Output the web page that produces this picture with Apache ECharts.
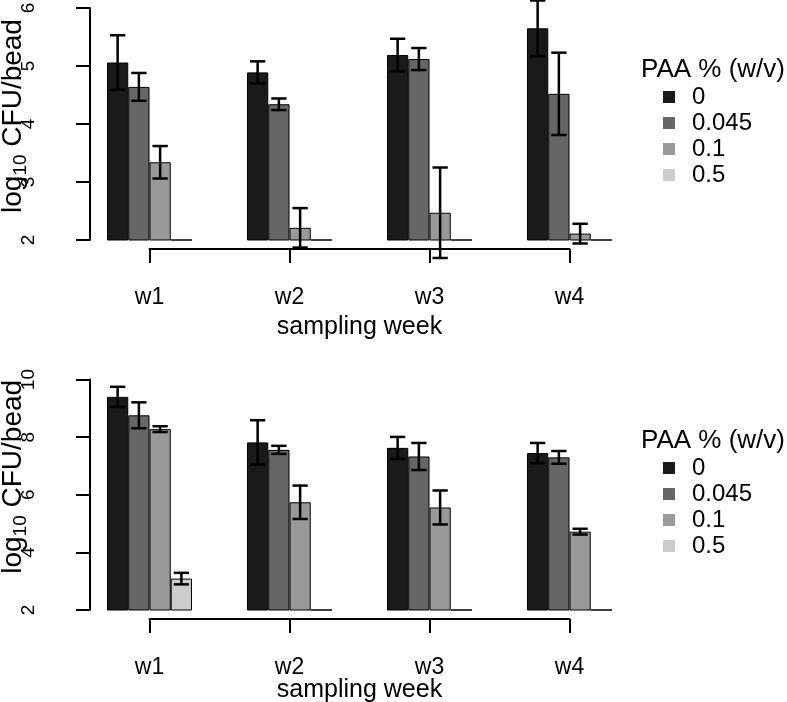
<!DOCTYPE html>
<html>
<head>
<meta charset="utf-8">
<script src="https://cdn.jsdelivr.net/npm/echarts@6/dist/echarts.min.js"></script>
<style>html,body{margin:0;padding:0;background:#fff;}#chart{width:787px;height:702px;}</style>
</head>
<body>
<div id="chart"></div>
<script>
// ---- data ----
const weeks = ['w1', 'w2', 'w3', 'w4'];
const paaLevels = ['0', '0.045', '0.1', '0.5'];
const legendTitle = 'PAA % (w/v)';
const xName = 'sampling week';

const topYTicks = [2, 3, 4, 5, 6];
const bottomYTicks = [2, 4, 6, 8, 10];

// top panel: mean log10 CFU/bead per PAA level (w1..w4)
const topMean0   = [5.06, 4.89, 5.19, 5.65];
const topMean045 = [4.64, 4.34, 5.12, 4.52];
const topMean01  = [3.34, 2.21, 2.47, 2.11];
const topMean05  = [2, 2, 2, 2];
// top panel: error (+/-)
const topErr0   = [0.47, 0.19, 0.28, 0.48];
const topErr045 = [0.24, 0.10, 0.19, 0.71];
const topErr01  = [0.28, 0.34, 0.78, 0.17];
const topErr05  = [null, null, null, null];

// bottom panel
const botMean0   = [9.40, 7.82, 7.63, 7.45];
const botMean045 = [8.76, 7.56, 7.33, 7.30];
const botMean01  = [8.28, 5.74, 5.56, 4.72];
const botMean05  = [3.09, 2, 2, 2];
const botErr0   = [0.35, 0.77, 0.38, 0.35];
const botErr045 = [0.45, 0.14, 0.47, 0.22];
const botErr01  = [0.10, 0.58, 0.59, 0.10];
const botErr05  = [0.20, null, null, null];

// ---- styling ----
const barColors = ['#1A1A1A', '#666666', '#999999', '#CCCCCC'];
const FONT = '"Liberation Sans", Arial, Helvetica, sans-serif';
const GAP = 0.393;

const topMeans = [topMean0, topMean045, topMean01, topMean05];
const topErrs = [topErr0, topErr045, topErr01, topErr05];
const botMeans = [botMean0, botMean045, botMean01, botMean05];
const botErrs = [botErr0, botErr045, botErr01, botErr05];

function barGeom(api, ci, s) {
  const bandW = api.size([1, 0])[0];
  const barW = bandW * (1 - GAP) / 4;
  const cx = api.coord([ci, 0])[0];
  return { x: cx + (s - 1.5) * barW, w: barW };
}

function errRender(params, api) {
  const ci = api.value(0), m = api.value(1), e = api.value(2), s = api.value(3);
  const g = barGeom(api, ci, s);
  const x = g.x;
  const yt = api.coord([ci, m + e])[1];
  const yb = api.coord([ci, m - e])[1];
  const cap = g.w * 0.36;
  const st = { stroke: '#000', lineWidth: 2.5 };
  return {
    type: 'group',
    children: [
      { type: 'line', shape: { x1: x, y1: yt, x2: x, y2: yb }, style: st },
      { type: 'line', shape: { x1: x - cap, y1: yt, x2: x + cap, y2: yt }, style: st },
      { type: 'line', shape: { x1: x - cap, y1: yb, x2: x + cap, y2: yb }, style: st }
    ]
  };
}

// baseline edge of each bar (visible for bars of zero height)
function baseRender(params, api) {
  const ci = api.value(0), m = api.value(1), s = api.value(2);
  const g = barGeom(api, ci, s);
  const y = api.coord([ci, m])[1];
  return { type: 'line', shape: { x1: g.x - g.w / 2, y1: y, x2: g.x + g.w / 2, y2: y },
           style: { stroke: '#000', lineWidth: 1.5 } };
}

function errData(means, errs) {
  const out = [];
  means.forEach((arr, s) => {
    arr.forEach((m, ci) => {
      const e = errs[s][ci];
      if (e != null) out.push([ci, m, e, s]);
    });
  });
  return out;
}

function baseData(means, ticks) {
  const out = [];
  means.forEach((arr, s) => {
    arr.forEach((m, ci) => { if (m <= ticks[0]) out.push([ci, m, s]); });
  });
  return out;
}

const series = [];
[[topMeans, 0], [botMeans, 1]].forEach(([means, gi]) => {
  means.forEach((arr, s) => {
    series.push({
      type: 'bar', name: paaLevels[s], xAxisIndex: gi, yAxisIndex: gi,
      data: arr, barGap: '0%', barCategoryGap: (GAP * 100) + '%',
      itemStyle: { color: barColors[s], borderColor: '#000', borderWidth: 1 },
      emphasis: { disabled: true }, silent: true, animation: false
    });
  });
});
series.push({ type: 'custom', xAxisIndex: 0, yAxisIndex: 0, renderItem: baseRender,
  data: baseData(topMeans, topYTicks), encode: { x: 0, y: 1 }, z: 9, silent: true, animation: false, clip: false });
series.push({ type: 'custom', xAxisIndex: 1, yAxisIndex: 1, renderItem: baseRender,
  data: baseData(botMeans, bottomYTicks), encode: { x: 0, y: 1 }, z: 9, silent: true, animation: false, clip: false });
series.push({ type: 'custom', xAxisIndex: 0, yAxisIndex: 0, renderItem: errRender,
  data: errData(topMeans, topErrs), encode: { x: 0, y: 1 }, z: 10, silent: true, animation: false, clip: false });
series.push({ type: 'custom', xAxisIndex: 1, yAxisIndex: 1, renderItem: errRender,
  data: errData(botMeans, botErrs), encode: { x: 0, y: 1 }, z: 10, silent: true, animation: false, clip: false });

function yAxisCfg(gi, ticks, shiftPad) {
  return {
    type: 'value', gridIndex: gi, min: ticks[0], max: ticks[ticks.length - 1],
    interval: ticks[1] - ticks[0], offset: -10.5,
    axisLine: { show: true, onZero: false, lineStyle: { color: '#000', width: 2 } },
    axisTick: { show: true, length: 14, lineStyle: { color: '#000', width: 2 } },
    axisLabel: { rotate: 90, margin: 52, fontSize: 19, color: '#000', fontFamily: FONT },
    splitLine: { show: false },
    name: '{a|log}{b|10}{a| CFU/bead}', nameLocation: 'middle', nameGap: 60,
    nameMoveOverlap: false,
    nameTextStyle: {
      color: '#000', fontFamily: FONT, padding: [0, 0, 0, shiftPad],
      rich: {
        a: { fontSize: 28, lineHeight: 34, color: '#000', fontFamily: FONT },
        b: { fontSize: 19, lineHeight: 19, verticalAlign: 'bottom', color: '#000', fontFamily: FONT }
      }
    }
  };
}

function helperX(gi, labelMargin, nameGap) {
  return {
    type: 'category', gridIndex: gi, data: weeks, boundaryGap: false,
    axisLine: { show: true, lineStyle: { color: '#000', width: 2 } },
    axisTick: { show: true, length: 14, lineStyle: { color: '#000', width: 2 } },
    axisLabel: { margin: labelMargin, fontSize: 23, color: '#000', fontFamily: FONT, interval: 0 },
    name: xName, nameLocation: 'middle', nameGap: nameGap, nameMoveOverlap: false,
    nameTextStyle: { fontSize: 25, color: '#000', fontFamily: FONT }
  };
}

const mainX = (gi) => ({
  type: 'category', gridIndex: gi, data: weeks,
  axisLine: { show: false }, axisTick: { show: false }, axisLabel: { show: false }
});

const legendCfg = (top) => ({
  data: paaLevels, orient: 'vertical', left: 663, top: top, padding: 0,
  icon: 'rect', itemWidth: 12, itemHeight: 12, itemGap: 0, selectedMode: false,
  itemStyle: { borderWidth: 0 },
  textStyle: { fontSize: 24, color: '#000', fontFamily: FONT, lineHeight: 26, padding: [0, 0, 0, 12] }
});

const titleCfg = (top) => ({
  text: legendTitle, left: 641, top: top, padding: 0,
  textStyle: { fontSize: 26, fontWeight: 'normal', color: '#000', fontFamily: FONT, lineHeight: 26 }
});

const gridCfg = (left, width, top, height) => ({
  left: left, width: width, top: top, height: height,
  outerBoundsMode: 'none', containLabel: false
});

const option = {
  animation: false,
  backgroundColor: '#fff',
  textStyle: { fontFamily: FONT },
  title: [titleCfg(57), titleCfg(428)],
  legend: [legendCfg(84), legendCfg(455)],
  grid: [
    gridCfg(79.5, 560, 8, 232),
    gridCfg(79.5, 560, 379.6, 230.4),
    gridCfg(149.5, 420, 240, 9),
    gridCfg(149.5, 420, 610, 9)
  ],
  xAxis: [mainX(0), mainX(1), helperX(2, 37, 66), helperX(3, 37, 59)],
  yAxis: [
    yAxisCfg(0, topYTicks, 16),
    yAxisCfg(1, bottomYTicks, 36),
    { type: 'value', gridIndex: 2, show: false },
    { type: 'value', gridIndex: 3, show: false }
  ],
  series: series
};

const chart = echarts.init(document.getElementById('chart'), null, { renderer: 'canvas' });
chart.setOption(option);
</script>
</body>
</html>
